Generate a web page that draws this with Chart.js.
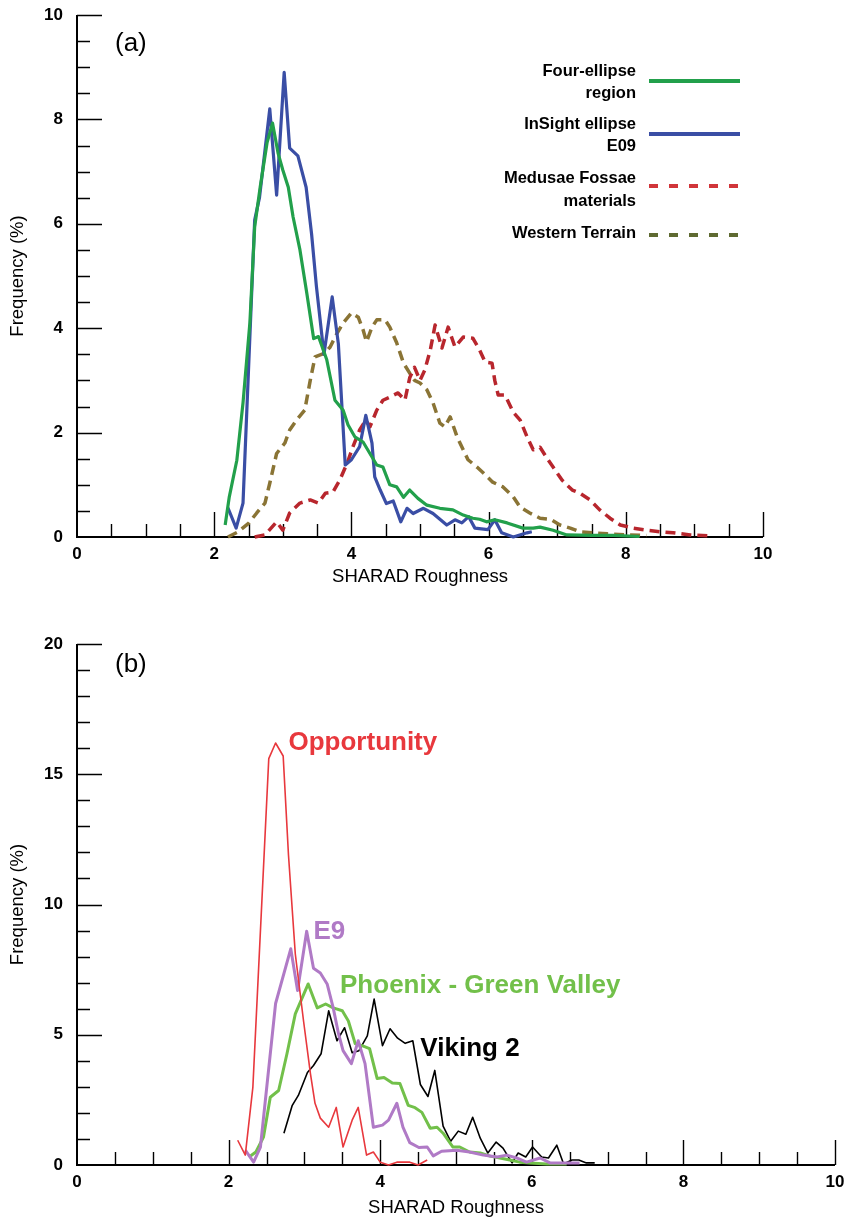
<!DOCTYPE html>
<html>
<head>
<meta charset="utf-8">
<script src="https://cdn.jsdelivr.net/npm/chart.js@4.4.0/dist/chart.umd.min.js"></script>
<style>
  html, body { margin: 0; padding: 0; background: #fff; }
  #wrap { position: relative; width: 847px; height: 1220px; }
  .box { position: absolute; left: 0; width: 847px; }
  #boxA { top: 0; height: 600px; }
  #boxB { top: 600px; height: 620px; }
</style>
</head>
<body>
<div id="wrap">
  <div class="box" id="boxA"><canvas id="chartA"></canvas></div>
  <div class="box" id="boxB"><canvas id="chartB"></canvas></div>
</div>
<script>
// ---------- panel (a) ----------
var fourX = [2.16, 2.22, 2.33, 2.42, 2.52, 2.59, 2.67, 2.77, 2.85, 2.93, 3.00, 3.08, 3.15, 3.25, 3.35, 3.45, 3.52, 3.64, 3.76, 3.88, 3.95, 4.05, 4.17, 4.27, 4.37, 4.46, 4.56, 4.66, 4.76, 4.85, 4.97, 5.10, 5.29, 5.48, 5.63, 5.77, 5.87, 5.97, 6.09, 6.27, 6.50, 6.65, 6.75, 6.94, 7.14, 7.50, 7.82, 8.20];
var fourY = [0.23, 0.77, 1.47, 2.57, 4.10, 5.94, 6.70, 7.55, 7.93, 7.36, 7.03, 6.70, 6.13, 5.50, 4.67, 3.80, 3.84, 3.40, 2.62, 2.43, 2.15, 1.92, 1.82, 1.60, 1.38, 1.34, 1.00, 0.96, 0.76, 0.90, 0.74, 0.61, 0.55, 0.52, 0.42, 0.36, 0.34, 0.29, 0.33, 0.27, 0.17, 0.17, 0.19, 0.13, 0.04, 0.03, 0.03, 0.01];

var insightX = [2.20, 2.32, 2.42, 2.59, 2.66, 2.81, 2.91, 3.02, 3.10, 3.22, 3.34, 3.42, 3.49, 3.60, 3.72, 3.81, 3.91, 4.00, 4.12, 4.21, 4.30, 4.34, 4.42, 4.51, 4.61, 4.72, 4.81, 4.90, 5.05, 5.19, 5.39, 5.51, 5.61, 5.71, 5.80, 5.99, 6.09, 6.19, 6.36, 6.56, 6.63];
var insightY = [0.56, 0.17, 0.65, 6.07, 6.50, 8.20, 6.55, 8.90, 7.45, 7.30, 6.70, 5.80, 4.80, 3.50, 4.60, 3.70, 1.38, 1.48, 1.73, 2.33, 1.80, 1.15, 0.90, 0.64, 0.69, 0.29, 0.55, 0.45, 0.55, 0.45, 0.23, 0.33, 0.27, 0.39, 0.17, 0.14, 0.33, 0.08, 0.00, 0.08, 0.10];

var medusaeX = [2.59, 2.74, 2.91, 3.00, 3.10, 3.25, 3.40, 3.52, 3.62, 3.73, 3.83, 3.94, 4.02, 4.12, 4.21, 4.27, 4.37, 4.46, 4.56, 4.68, 4.78, 4.85, 4.92, 5.00, 5.07, 5.15, 5.22, 5.32, 5.41, 5.51, 5.63, 5.77, 5.87, 5.95, 6.05, 6.09, 6.14, 6.24, 6.36, 6.46, 6.56, 6.65, 6.75, 6.85, 6.94, 7.07, 7.22, 7.33, 7.48, 7.62, 7.77, 7.92, 8.11, 8.31, 8.50, 8.69, 8.94, 9.23];
var medusaeY = [0.00, 0.04, 0.29, 0.13, 0.46, 0.65, 0.71, 0.65, 0.84, 0.86, 1.09, 1.42, 1.72, 2.05, 2.24, 2.11, 2.43, 2.62, 2.68, 2.76, 2.62, 3.05, 3.25, 3.00, 3.20, 3.58, 4.06, 3.62, 4.02, 3.64, 3.83, 3.81, 3.58, 3.35, 3.33, 3.00, 2.72, 2.72, 2.39, 2.24, 1.92, 1.67, 1.72, 1.51, 1.34, 1.09, 0.90, 0.84, 0.71, 0.52, 0.36, 0.23, 0.17, 0.13, 0.10, 0.08, 0.04, 0.02];

var westernX = [2.20, 2.35, 2.50, 2.62, 2.74, 2.81, 2.91, 3.03, 3.10, 3.20, 3.32, 3.40, 3.47, 3.61, 3.69, 3.79, 3.88, 4.00, 4.10, 4.17, 4.22, 4.30, 4.37, 4.49, 4.56, 4.66, 4.76, 4.85, 4.92, 5.00, 5.10, 5.19, 5.29, 5.36, 5.44, 5.54, 5.63, 5.70, 5.83, 5.92, 6.06, 6.21, 6.36, 6.46, 6.60, 6.75, 6.90, 7.04, 7.19, 7.33, 7.52, 7.73, 8.00, 8.30];
var westernY = [0.00, 0.10, 0.26, 0.46, 0.65, 1.03, 1.60, 1.80, 2.05, 2.24, 2.43, 3.00, 3.45, 3.52, 3.64, 3.90, 4.10, 4.29, 4.21, 3.97, 3.74, 4.02, 4.16, 4.16, 4.02, 3.72, 3.33, 3.14, 3.00, 2.95, 2.82, 2.57, 2.18, 2.11, 2.30, 1.92, 1.67, 1.48, 1.34, 1.23, 1.05, 0.96, 0.77, 0.57, 0.46, 0.36, 0.34, 0.23, 0.17, 0.10, 0.08, 0.06, 0.04, 0.03];

// ---------- panel (b) ----------
var oppX = [2.12, 2.22, 2.32, 2.53, 2.62, 2.72, 2.79, 2.88, 2.99, 3.08, 3.14, 3.21, 3.32, 3.42, 3.51, 3.63, 3.71, 3.82, 3.91, 4.00, 4.11, 4.22, 4.39, 4.50, 4.62];
var oppY = [0.95, 0.38, 2.98, 15.6, 16.2, 15.7, 11.9, 8.1, 5.5, 3.5, 2.37, 1.8, 1.45, 2.21, 0.69, 1.72, 2.21, 0.38, 0.5, 0.11, 0.0, 0.11, 0.11, 0.0, 0.19];

var e9X = [2.22, 2.33, 2.42, 2.62, 2.82, 2.91, 3.03, 3.12, 3.21, 3.30, 3.38, 3.45, 3.51, 3.62, 3.71, 3.80, 3.91, 4.03, 4.11, 4.22, 4.30, 4.39, 4.51, 4.62, 4.70, 4.81, 5.01, 5.18, 5.36, 5.54, 5.67, 5.80, 5.93, 6.11, 6.24, 6.46, 6.63];
var e9Y = [0.57, 0.11, 0.69, 6.2, 8.3, 6.7, 8.97, 7.55, 7.37, 6.95, 6.03, 5.04, 4.39, 3.89, 4.77, 3.89, 1.45, 1.53, 1.72, 2.37, 1.45, 0.86, 0.67, 0.69, 0.35, 0.53, 0.57, 0.5, 0.38, 0.31, 0.38, 0.27, 0.11, 0.27, 0.08, 0.08, 0.08];

var phoenixX = [2.27, 2.36, 2.46, 2.55, 2.66, 2.77, 2.88, 3.05, 3.17, 3.28, 3.38, 3.50, 3.58, 3.67, 3.76, 3.86, 3.96, 4.05, 4.16, 4.26, 4.37, 4.46, 4.55, 4.66, 4.75, 4.83, 4.96, 5.05, 5.18, 5.32, 5.45, 5.58, 5.71, 5.84, 5.97, 6.20, 6.46];
var phoenixY = [0.31, 0.5, 1.07, 2.6, 2.86, 4.27, 5.8, 6.95, 6.03, 6.18, 6.03, 5.92, 5.53, 4.66, 4.58, 4.47, 3.32, 3.36, 3.15, 3.13, 2.29, 2.2, 2.02, 1.41, 1.45, 1.22, 0.69, 0.69, 0.5, 0.46, 0.34, 0.27, 0.19, 0.11, 0.08, 0.04, 0.04];

var vikingX = [2.73, 2.84, 2.92, 3.04, 3.12, 3.22, 3.32, 3.43, 3.53, 3.63, 3.72, 3.83, 3.92, 4.03, 4.13, 4.23, 4.33, 4.43, 4.53, 4.63, 4.72, 4.83, 4.93, 5.03, 5.13, 5.22, 5.32, 5.42, 5.53, 5.62, 5.74, 5.82, 5.92, 6.01, 6.13, 6.22, 6.33, 6.42, 6.53, 6.62, 6.72, 6.83];
var vikingY = [1.22, 2.29, 2.67, 3.55, 3.82, 4.27, 5.92, 4.77, 5.27, 4.31, 4.39, 4.96, 6.37, 4.58, 5.23, 4.87, 4.67, 4.77, 3.09, 2.63, 3.63, 1.49, 0.91, 1.3, 1.18, 1.83, 1.03, 0.46, 0.88, 0.65, 0.08, 0.46, 0.31, 0.69, 0.31, 0.27, 0.76, 0.04, 0.19, 0.19, 0.08, 0.08];

// labels placed next to curves in (b), in data units
var noteText = ['Opportunity', 'E9', 'Phoenix - Green Valley', 'Viking 2'];
var noteAtX = [2.79, 3.12, 3.47, 4.53];
var noteAtY = [16.2, 8.97, 6.87, 4.47];
var noteColor = ['#e8383d', '#b07ac6', '#72c04a', '#000000'];

var FONT = '"Liberation Sans", Arial, Helvetica, sans-serif';

function pts(xs, ys) {
  return xs.map(function (x, i) { return { x: x, y: ys[i] }; });
}

// axis lines and inward ticks
function framePlugin(c) {
  return {
    id: 'frame',
    beforeDatasetsDraw: function (chart) {
      var ctx = chart.ctx, xs = chart.scales.x, ys = chart.scales.y;
      var x0 = xs.getPixelForValue(xs.min), x1 = xs.getPixelForValue(xs.max);
      var y0 = ys.getPixelForValue(ys.min), y1 = ys.getPixelForValue(ys.max);
      ctx.save();
      ctx.strokeStyle = '#000';
      ctx.lineWidth = 1.4;
      ctx.beginPath();
      var n = Math.round((xs.max - xs.min) / c.xMinor), i, v, p, len;
      for (i = 1; i <= n; i++) {
        v = xs.min + i * c.xMinor;
        p = Math.round(xs.getPixelForValue(v)) + 0.5;
        len = (i % c.xEvery === 0) ? 25 : 13;
        ctx.moveTo(p, y0); ctx.lineTo(p, y0 - len);
      }
      n = Math.round((ys.max - ys.min) / c.yMinor);
      for (i = 1; i <= n; i++) {
        v = ys.min + i * c.yMinor;
        p = Math.round(ys.getPixelForValue(v)) + 0.5;
        len = (i % c.yEvery === 0) ? 25 : 13;
        ctx.moveTo(x0, p); ctx.lineTo(x0 + len, p);
      }
      ctx.stroke();
      ctx.lineWidth = 2;
      ctx.beginPath();
      ctx.moveTo(x0, y1); ctx.lineTo(x0, y0); ctx.lineTo(x1, y0);
      ctx.stroke();
      ctx.restore();
    }
  };
}

function baseOptions(c) {
  return {
    responsive: true,
    maintainAspectRatio: false,
    animation: false,
    layout: { padding: c.pad },
    plugins: { legend: { display: false }, tooltip: { enabled: false } },
    elements: { point: { radius: 0 }, line: { tension: 0, borderJoinStyle: 'round' } },
    scales: {
      x: {
        type: 'linear', min: 0, max: 10,
        border: { display: false },
        grid: { display: false, drawTicks: false },
        ticks: { stepSize: 2, padding: 7, color: '#000', font: { family: FONT, size: 17, weight: 'bold' } },
        title: { display: true, text: 'SHARAD Roughness', color: '#000',
                 font: { family: FONT, size: 18.5 }, padding: { top: 0, bottom: c.xTitlePad } },
        afterFit: function (s) { s.height = c.xHeight; s.paddingLeft = 0; s.paddingRight = 0; }
      },
      y: {
        type: 'linear', min: 0, max: c.yMax,
        border: { display: false },
        grid: { display: false, drawTicks: false },
        ticks: { stepSize: c.yStep, padding: 14, color: '#000', font: { family: FONT, size: 17, weight: 'bold' } },
        title: { display: true, text: 'Frequency (%)', color: '#000',
                 font: { family: FONT, size: 18.5 }, padding: { top: 7, bottom: 0 } },
        afterFit: function (s) { s.width = 77; s.paddingTop = 0; s.paddingBottom = 0; }
      }
    }
  };
}

// ---- chart (a) ----
var legendA = {
  id: 'legendA',
  afterDraw: function (chart) {
    var ctx = chart.ctx;
    ctx.save();
    ctx.font = 'bold 16.5px ' + FONT;
    ctx.fillStyle = '#000';
    ctx.textAlign = 'right';
    ctx.textBaseline = 'middle';
    var rows = [
      { t: ['Four-ellipse', 'region'], ty: [71, 93], ly: 81, col: '#22a04b', dash: [] },
      { t: ['InSight ellipse', 'E09'], ty: [124, 146], ly: 134, col: '#3a4ea5', dash: [] },
      { t: ['Medusae Fossae', 'materials'], ty: [178, 201], ly: 186, col: '#d1353a', dash: [9, 11] },
      { t: ['Western Terrain'], ty: [233], ly: 235, col: '#5f6a32', dash: [9, 11] }
    ];
    rows.forEach(function (r) {
      r.t.forEach(function (s, k) { ctx.fillText(s, 636, r.ty[k]); });
      ctx.strokeStyle = r.col;
      ctx.lineWidth = 4;
      ctx.setLineDash(r.dash);
      ctx.beginPath();
      ctx.moveTo(649, r.ly); ctx.lineTo(740, r.ly);
      ctx.stroke();
    });
    ctx.setLineDash([]);
    ctx.font = '26px ' + FONT;
    ctx.textAlign = 'left';
    ctx.fillText('(a)', 115, 44);
    ctx.restore();
  }
};

var optsA = baseOptions({ pad: { left: 0, top: 15, right: 84, bottom: 0 }, xHeight: 63, xTitlePad: 12, yMax: 10, yStep: 2 });

new Chart(document.getElementById('chartA'), {
  type: 'line',
  data: {
    datasets: [
      { label: 'Four-ellipse region', data: pts(fourX, fourY), borderColor: '#22a04b', borderWidth: 3.2, clip: false },
      { label: 'InSight ellipse E09', data: pts(insightX, insightY), borderColor: '#3a4ea5', borderWidth: 3.2, clip: false },
      { label: 'Medusae Fossae materials', data: pts(medusaeX, medusaeY), borderColor: '#b8262d', borderWidth: 3.5, borderDash: [10, 6], clip: false },
      { label: 'Western Terrain', data: pts(westernX, westernY), borderColor: '#8a7435', borderWidth: 3.5, borderDash: [10, 6], clip: false }
    ]
  },
  options: optsA,
  plugins: [framePlugin({ xMinor: 0.5, xEvery: 4, yMinor: 0.5, yEvery: 4 }), legendA]
});

// ---- chart (b) ----
var notesB = {
  id: 'notesB',
  afterDraw: function (chart) {
    var ctx = chart.ctx, xs = chart.scales.x, ys = chart.scales.y;
    ctx.save();
    ctx.font = 'bold 26px ' + FONT;
    ctx.textAlign = 'left';
    ctx.textBaseline = 'middle';
    noteText.forEach(function (t, i) {
      ctx.fillStyle = noteColor[i];
      ctx.fillText(t, xs.getPixelForValue(noteAtX[i]), ys.getPixelForValue(noteAtY[i]));
    });
    ctx.font = '26px ' + FONT;
    ctx.fillStyle = '#000';
    ctx.fillText('(b)', 115, 65);
    ctx.restore();
  }
};

var optsB = baseOptions({ pad: { left: 0, top: 44, right: 12, bottom: 0 }, xHeight: 55, xTitlePad: 1, yMax: 20, yStep: 5 });

new Chart(document.getElementById('chartB'), {
  type: 'line',
  data: {
    datasets: [
      { label: 'Opportunity', data: pts(oppX, oppY), borderColor: '#e8383d', borderWidth: 1.6, clip: false },
      { label: 'E9', data: pts(e9X, e9Y), borderColor: '#b07ac6', borderWidth: 3, clip: false },
      { label: 'Phoenix - Green Valley', data: pts(phoenixX, phoenixY), borderColor: '#72c04a', borderWidth: 3, clip: false },
      { label: 'Viking 2', data: pts(vikingX, vikingY), borderColor: '#000000', borderWidth: 1.6, clip: false }
    ]
  },
  options: optsB,
  plugins: [framePlugin({ xMinor: 0.5, xEvery: 4, yMinor: 1, yEvery: 5 }), notesB]
});
</script>
</body>
</html>
